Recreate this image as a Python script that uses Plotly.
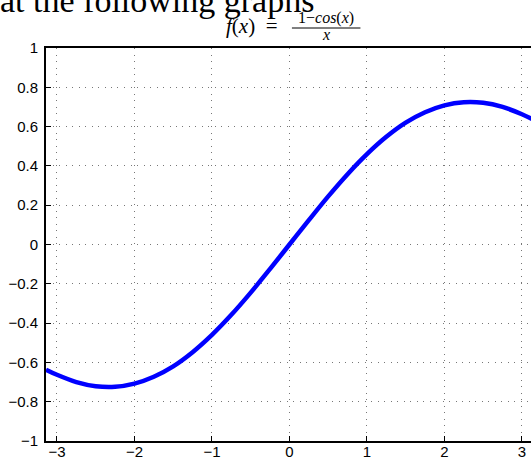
import plotly.graph_objects as go

# values
x_vals = [-3.1416, -3.0, -2.75, -2.5, -2.25, -2.0, -1.75, -1.5, -1.25, -1.0, -0.75, -0.5, -0.25, 0.0,
          0.25, 0.5, 0.75, 1.0, 1.25, 1.5, 1.75, 2.0, 2.25, 2.5, 2.75, 3.0, 3.1416]
y_vals = [-0.637, -0.663, -0.700, -0.721, -0.724, -0.708, -0.673, -0.620, -0.548, -0.460, -0.358, -0.245, -0.124, 0.0,
          0.124, 0.245, 0.358, 0.460, 0.548, 0.620, 0.673, 0.708, 0.724, 0.721, 0.700, 0.663, 0.637]
x_ticks = [-3, -2, -1, 0, 1, 2, 3]
y_ticks = [-1, -0.8, -0.6, -0.4, -0.2, 0, 0.2, 0.4, 0.6, 0.8, 1]
y_tick_text = ["\u22121", "\u22120.8", "\u22120.6", "\u22120.4", "\u22120.2", "0", "0.2", "0.4", "0.6", "0.8", "1"]
x_tick_text = ["\u22123", "\u22122", "\u22121", "0", "1", "2", "3"]

fig = go.Figure()
fig.add_trace(go.Scatter(x=x_vals, y=y_vals, mode="lines",
                         line=dict(color="#0000ff", width=4.5, shape="spline"),
                         hoverinfo="skip"))

axis_font = dict(family="Liberation Sans, Arial, sans-serif", size=15, color="black")
grid_dash = "1px,5.5px"
fig.update_xaxes(range=[-3.1416, 3.117], tickvals=x_ticks, ticktext=x_tick_text,
                 showgrid=True, gridcolor="#777777", griddash=grid_dash, gridwidth=1,
                 showline=True, linecolor="black", linewidth=2, mirror=True,
                 ticks="inside", ticklen=5, tickcolor="black", zeroline=False,
                 tickfont=axis_font, automargin=False, ticklabelstandoff=-4)
fig.update_yaxes(range=[-1, 1], tickvals=y_ticks, ticktext=y_tick_text,
                 showgrid=True, gridcolor="#777777", griddash=grid_dash, gridwidth=1,
                 showline=True, linecolor="black", linewidth=2, mirror=False,
                 ticks="inside", ticklen=5, tickcolor="black", zeroline=False,
                 tickfont=axis_font, ticklabelstandoff=3, automargin=False)

serif = "Liberation Serif, DejaVu Serif, serif"
annotations = [
    dict(text="at the following graphs", x=0, y=1, xref="paper", yref="paper",
         xanchor="left", yanchor="bottom", xshift=-48, yshift=27, showarrow=False,
         font=dict(family=serif, size=34, color="black")),
    dict(text="<i>f</i>(<i>x</i>)&nbsp;&nbsp;=", x=-0.48, y=1.0, xref="x", yref="paper",
         xanchor="center", yanchor="bottom", yshift=8, showarrow=False,
         font=dict(family=serif, size=21, color="black")),
    dict(text="1\u2212<i>cos</i>(<i>x</i>)", x=0.477, y=1.0, xref="x", yref="paper",
         xanchor="center", yanchor="bottom", yshift=19, showarrow=False,
         font=dict(family=serif, size=16, color="black")),
    dict(text="<i>x</i>", x=0.477, y=1.0, xref="x", yref="paper",
         xanchor="center", yanchor="bottom", yshift=3, showarrow=False,
         font=dict(family=serif, size=16, color="black")),
]
fig.update_layout(
    width=531, height=458,
    margin=dict(l=46, r=0, t=48, b=17),
    paper_bgcolor="white", plot_bgcolor="white",
    showlegend=False,
    annotations=annotations,
    shapes=[dict(type="line", xref="x", yref="paper", x0=0.032, x1=0.916,
                 ysizemode="pixel", yanchor=1.0, y0=20, y1=20,
                 line=dict(color="black", width=1), layer="above")],
)

fig.write_html("out.html", config={"displayModeBar": False},
               post_script="document.body.style.margin='0';document.body.style.overflow='hidden';")
